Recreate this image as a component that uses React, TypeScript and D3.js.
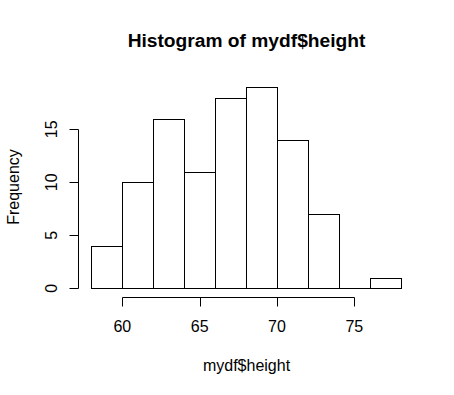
import React from "react";
import * as d3 from "d3";

const binStarts = [58, 60, 62, 64, 66, 68, 70, 72, 74, 76];
const binWidth = 2;
const counts = [4, 10, 16, 11, 18, 19, 14, 7, 0, 1];
const xTicks = [60, 65, 70, 75];
const yTicks = [0, 5, 10, 15];
const title = "Histogram of mydf$height";
const xLabel = "mydf$height";
const yLabel = "Frequency";

export default function App() {
  const W = 454, H = 395;
  const x = d3.scaleLinear().domain([60, 75]).range([122.3, 354.3]);
  const y = d3.scaleLinear().domain([0, 15]).range([288.3, 129.3]);
  const px = (v: number) => Math.round(v) + 0.5;
  const font = "Liberation Sans, Arial, sans-serif";
  const axisY = 297.5;
  const axisX = 78.5;
  return (
    <svg width={W} height={H} style={{ position: "absolute", left: 0, top: 0, background: "#fff" }}>
      <rect x={0} y={0} width={W} height={H} fill="#fff" />
      <text x={246.5} y={46.5} textAnchor="middle" fontFamily={font} fontWeight="bold" fontSize={19.2} fill="#000">
        {title}
      </text>
      {binStarts.map((b, i) =>
        counts[i] > 0 ? (
          <rect
            key={b}
            x={px(x(b))}
            y={px(y(counts[i]))}
            width={px(x(b + binWidth)) - px(x(b))}
            height={px(y(0)) - px(y(counts[i]))}
            fill="none"
            stroke="#000"
            strokeWidth={1}
          />
        ) : (
          <line key={b} x1={px(x(b))} x2={px(x(b + binWidth))} y1={px(y(0))} y2={px(y(0))} stroke="#000" />
        )
      )}
      <line x1={px(x(60))} x2={px(x(75))} y1={axisY} y2={axisY} stroke="#000" />
      {xTicks.map((t) => (
        <g key={t}>
          <line x1={px(x(t))} x2={px(x(t))} y1={axisY} y2={axisY + 9} stroke="#000" />
          <text x={x(t)} y={331.5} textAnchor="middle" fontFamily={font} fontSize={16} fill="#000">
            {t}
          </text>
        </g>
      ))}
      <line x1={axisX} x2={axisX} y1={px(y(0))} y2={px(y(15))} stroke="#000" />
      {yTicks.map((t) => (
        <g key={t}>
          <line x1={axisX - 9} x2={axisX} y1={px(y(t))} y2={px(y(t))} stroke="#000" />
          <text
            transform={`translate(57,${y(t)}) rotate(-90)`}
            textAnchor="middle"
            fontFamily={font}
            fontSize={16}
            fill="#000"
          >
            {t}
          </text>
        </g>
      ))}
      <text x={246.5} y={370.5} textAnchor="middle" fontFamily={font} fontSize={16} fill="#000">
        {xLabel}
      </text>
      <text
        transform={`translate(18.5,187) rotate(-90)`}
        textAnchor="middle"
        fontFamily={font}
        fontSize={16}
        fill="#000"
      >
        {yLabel}
      </text>
    </svg>
  );
}
